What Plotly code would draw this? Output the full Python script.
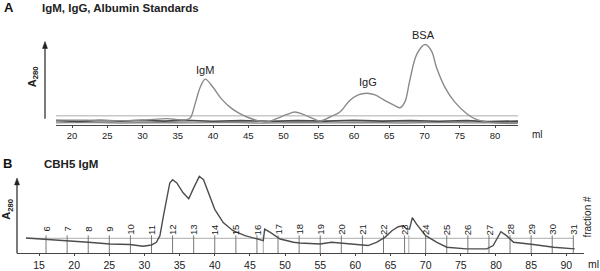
import plotly.graph_objects as go

W, H = 600, 271
FONT = "Liberation Sans, Arial, sans-serif"

# ---------------- Panel A data (ml, A280 arbitrary units) ----------------
a_ml = [17.7, 22, 26, 30, 33.5, 35, 36.3, 36.8, 37.5, 38.2, 38.9, 40.0, 41.2, 42.4,
        43.8, 44.8, 46.2, 47.6, 49.0, 50.5, 51.6, 52.8, 54.2, 55.2, 56.6, 58.0, 59.4,
        60.6, 61.8, 63.0, 64.4, 65.8, 66.5, 67.2, 67.9, 68.9, 70.1, 71.0, 71.7, 72.9,
        74.3, 76.0, 77.4, 78.8, 80.5, 82.0, 83.2]
a_abs = [4.5, 4.5, 4.0, 4.5, 6.0, 5.0, 5.0, 7.0, 22.0, 38.0, 46.0, 37.7, 26.0, 17.7,
         11.0, 7.7, 4.3, 2.7, 6.0, 10.3, 12.7, 10.3, 6.0, 3.7, 7.7, 12.7, 24.3,
         30.0, 31.7, 30.0, 24.3, 19.3, 17.0, 22.7, 44.3, 71.0, 81.0, 74.3, 57.7, 37.7,
         22.7, 11.0, 5.0, 2.7, 1.5, 1.0, 1.0]

base1_ml = [17.7, 83.3]
base1_abs = [9.0, 9.0]
base2_ml = [17.7, 21, 24, 27, 30, 33, 36, 40, 44, 48, 52, 56, 60, 64, 68, 72, 76, 79, 83.3]
base2_abs = [4.0, 3.3, 4.2, 3.5, 4.3, 3.6, 4.2, 3.4, 4.1, 3.2, 4.0, 3.5, 4.2, 3.6, 4.0, 3.4, 4.1, 3.0, 3.6]
base3_ml = [17.7, 22, 27, 32, 37, 42, 47, 52, 57, 62, 67, 72, 77, 83.3]
base3_abs = [1.8, 2.4, 1.6, 2.2, 1.7, 2.3, 1.5, 2.1, 1.7, 2.2, 1.6, 2.3, 1.8, 2.0]

a_ticks = [20, 25, 30, 35, 40, 45, 50, 55, 60, 65, 70, 75, 80]
a_peak_labels = ["IgM", "IgG", "BSA"]
a_peak_ml = [38.9, 62.0, 69.9]
a_peak_lab_y = [55, 43.5, 91]

# ---------------- Panel B data ----------------
b_ml = [13.15, 15.6, 18.9, 22.0, 25.1, 27.9, 29.8, 31.0, 31.7, 32.2, 32.7, 33.2, 33.6,
        34.0, 34.6, 35.5, 36.3, 37.0, 37.8, 38.4, 39.1, 40.0, 41.2, 42.6, 44.3, 46.0,
        46.9, 47.1, 47.9, 49.3, 51.2, 52.1, 55.0, 56.6, 58.0, 59.7, 61.8, 63.0, 64.2,
        65.2, 66.1, 66.8, 67.3, 67.7, 68.1, 68.7, 70.0, 71.6, 73.0, 75.8, 78.7, 79.6,
        80.1, 80.7, 81.5, 82.5, 85.3, 88.2, 91.2]
b_abs = [15.3, 14.3, 12.7, 11.0, 9.3, 8.7, 7.0, 8.3, 11.0, 17.7, 37.7, 57.7, 71.0,
         74.3, 71.0, 61.0, 55.0, 66.0, 77.7, 74.3, 61.0, 44.3, 31.0, 22.7, 17.7, 14.3,
         12.7, 24.3, 21.0, 14.3, 11.0, 10.3, 9.3, 11.0, 10.0, 9.3, 7.7, 11.0, 16.0,
         22.7, 26.7, 27.7, 24.3, 24.3, 36.0, 29.3, 17.7, 11.0, 6.0, 4.3, 4.3, 7.7,
         14.3, 21.7, 17.7, 11.0, 8.7, 6.0, 4.3]

b_ref_ml = [13.15, 91.0]
b_ref_abs = [15.0, 15.0]

fraction_nums = list(range(6, 32))
fraction_ml = [16 + 3 * (n - 6) for n in fraction_nums]
extra_marks_ml = [46.9, 67.6]
frac_line_top = 18
frac_label_y = 24

b_ticks = [15, 20, 25, 30, 35, 40, 45, 50, 55, 60, 65, 70, 75, 80, 85, 90]


def px(x):
    return x / W


def py(y):
    return 1 - y / H


fig = go.Figure()

# panel A traces
fig.add_trace(go.Scatter(x=base1_ml, y=base1_abs, mode="lines",
                         line=dict(color="#c8c8c8", width=1.6), xaxis="x", yaxis="y"))
fig.add_trace(go.Scatter(x=base3_ml, y=base3_abs, mode="lines",
                         line=dict(color="#8a8a8a", width=1.4), xaxis="x", yaxis="y"))
fig.add_trace(go.Scatter(x=base2_ml, y=base2_abs, mode="lines",
                         line=dict(color="#4a4a4a", width=1.7), xaxis="x", yaxis="y"))
fig.add_trace(go.Scatter(x=a_ml, y=a_abs, mode="lines", line_shape="spline",
                         line=dict(color="#8a8a8a", width=1.4), xaxis="x", yaxis="y"))

# panel B traces
fig.add_trace(go.Scatter(x=b_ref_ml, y=b_ref_abs, mode="lines",
                         line=dict(color="#bdbdbd", width=1.2), xaxis="x2", yaxis="y2"))
fx, fy = [], []
for m in fraction_ml:
    fx += [m, m, None]
    fy += [0, frac_line_top, None]
fig.add_trace(go.Scatter(x=fx, y=fy, mode="lines",
                         line=dict(color="#777777", width=1), xaxis="x2", yaxis="y2"))
ex, ey = [], []
for m in extra_marks_ml:
    ex += [m, m, None]
    ey += [0, frac_line_top, None]
fig.add_trace(go.Scatter(x=ex, y=ey, mode="lines",
                         line=dict(color="#aaaaaa", width=1), xaxis="x2", yaxis="y2"))
fig.add_trace(go.Scatter(x=b_ml, y=b_abs, mode="lines",
                         line=dict(color="#4d4d4d", width=1.4), xaxis="x2", yaxis="y2"))

ann = []
# titles
ann.append(dict(text="<b>A</b>", x=px(2), y=py(8), xanchor="left", yanchor="middle",
                font=dict(size=13, color="#111")))
ann.append(dict(text="<b>IgM, IgG, Albumin Standards</b>", x=px(40), y=py(8),
                xanchor="left", yanchor="middle", font=dict(size=11.5, color="#222")))
ann.append(dict(text="<b>B</b>", x=px(1), y=py(165), xanchor="left", yanchor="middle",
                font=dict(size=13, color="#111")))
ann.append(dict(text="<b>CBH5 IgM</b>", x=px(42), y=py(166), xanchor="left",
                yanchor="middle", font=dict(size=11.5, color="#222")))
# y axis labels
ann.append(dict(text="<b>A<sub>280</sub></b>", x=px(33), y=py(78), textangle=-90,
                xanchor="center", yanchor="middle", font=dict(size=11, color="#222")))
ann.append(dict(text="<b>A<sub>280</sub></b>", x=px(7), y=py(212), textangle=-90,
                xanchor="center", yanchor="middle", font=dict(size=11, color="#222")))
# ml labels
ann.append(dict(text="ml", x=px(537), y=py(136), xanchor="center", yanchor="middle",
                font=dict(size=10, color="#222")))
ann.append(dict(text="ml", x=px(593), y=py(267), xanchor="center", yanchor="middle",
                font=dict(size=10.5, color="#222")))
ann.append(dict(text="fraction #", x=px(588), y=py(219), textangle=-90,
                xanchor="center", yanchor="middle", font=dict(size=10, color="#222")))
for k in range(len(ann)):
    ann[k]["xref"] = "paper"
    ann[k]["yref"] = "paper"
    ann[k]["showarrow"] = False

# peak labels
for t, m, v in zip(a_peak_labels, a_peak_ml, a_peak_lab_y):
    ann.append(dict(text=t, x=m, y=v, xref="x", yref="y", showarrow=False,
                    xanchor="center", yanchor="middle", font=dict(size=11, color="#222")))
# fraction labels
for n, m in zip(fraction_nums, fraction_ml):
    ann.append(dict(text=str(n), x=m, y=frac_label_y, xref="x2", yref="y2",
                    showarrow=False, textangle=-90, xanchor="center", yanchor="middle",
                    font=dict(size=9.5, color="#222")))

# axis arrows (vertical line + arrowhead) in paper coordinates
shapes = []
for (ax_x, y_top, y_bot) in [(45, 42, 120), (17, 180, 256)]:
    shapes.append(dict(type="line", xref="paper", yref="paper",
                       x0=px(ax_x), x1=px(ax_x), y0=py(y_bot), y1=py(y_top + 5),
                       line=dict(color="#222", width=1.2)))
    shapes.append(dict(type="path", xref="paper", yref="paper",
                       path=f"M {px(ax_x - 2.5)} {py(y_top + 7)} L {px(ax_x)} {py(y_top)} "
                            f"L {px(ax_x + 2.5)} {py(y_top + 7)} Z",
                       fillcolor="#222", line=dict(color="#222", width=0.5)))

fig.update_layout(
    width=W, height=H,
    margin=dict(l=0, r=0, t=0, b=0),
    paper_bgcolor="white", plot_bgcolor="white",
    showlegend=False,
    font=dict(family=FONT, color="#222"),
    annotations=ann,
    shapes=shapes,
    xaxis=dict(domain=[px(56), px(518)], range=[17.73, 83.26], tickvals=a_ticks,
               showline=True, linecolor="#444", linewidth=1, ticks="outside",
               ticklen=2, tickcolor="#444", showgrid=False, zeroline=False,
               tickfont=dict(size=9.5, color="#222"), anchor="y"),
    yaxis=dict(domain=[py(126), py(28)], range=[0, 98], visible=False, anchor="x"),
    xaxis2=dict(domain=[px(17), px(584)], range=[11.87, 92.52], tickvals=b_ticks,
                showline=True, linecolor="#444", linewidth=1, ticks="outside",
                ticklen=2, tickcolor="#444", showgrid=False, zeroline=False,
                tickfont=dict(size=10.5, color="#222"), anchor="y2"),
    yaxis2=dict(domain=[py(256), py(175)], range=[0, 81], visible=False, anchor="x2"),
)

fig.write_html("out.html", config={"displayModeBar": False},
               post_script="document.body.style.margin='0px';document.body.style.overflow='hidden';")
